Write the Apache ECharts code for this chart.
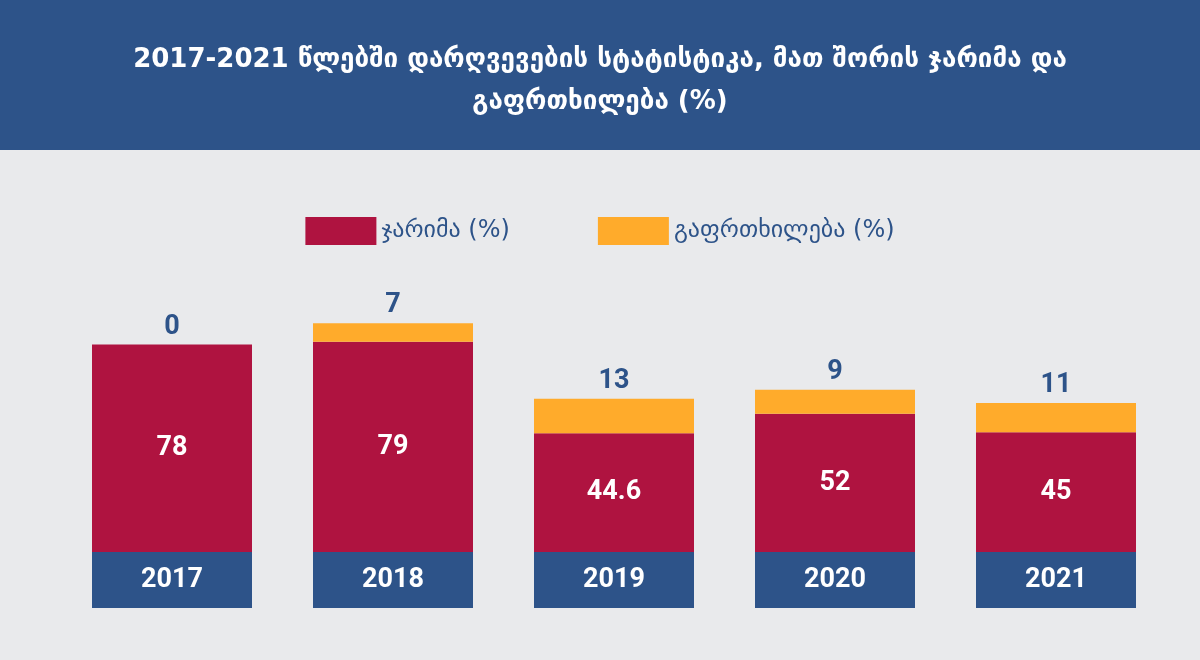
<!DOCTYPE html>
<html><head><meta charset="utf-8">
<script src="https://cdn.jsdelivr.net/npm/echarts@6/dist/echarts.min.js"></script>
<style>html,body{margin:0;padding:0;background:#e9eaec}#c{width:1200px;height:660px}</style>
</head><body><div id="c"></div>
<script>
const years = ['2017','2018','2019','2020','2021'];
const fines = [78, 79, 44.6, 52, 45];
const warnings = [0, 7, 13, 9, 11];
const blue = '#2d5389';
const chart = echarts.init(document.getElementById('c'));
chart.setOption({
  backgroundColor: '#e9eaec',
  animation: false,
  graphic: [{type:'rect', shape:{x:0,y:0,width:1200,height:150}, style:{fill:blue}, z:-1}],
  title: {
    text: '2017-2021 წლებში დარღვევების სტატისტიკა, მათ შორის ჯარიმა და\nგაფრთხილება (%)',
    left: 'center', top: 34,
    textStyle: {color:'#fff', fontSize:26, fontWeight:'bold', lineHeight:42, fontFamily:'DejaVu Sans'}
  },
  legend: {
    top: 212, left: 'center', itemWidth: 71, itemHeight: 28, itemGap: 88,
    icon: 'rect',
    textStyle: {color: blue, fontSize: 24, fontFamily: 'DejaVu Sans'}
  },
  grid: {left: 61.5, right: 33.5, top: 286, bottom: 108},
  xAxis: {
    type: 'category', data: years,
    axisLine: {show:false}, axisTick: {show:false},
    axisLabel: {
      margin: 0, width: 160, height: 56, lineHeight: 56, align: 'center',
      backgroundColor: blue, color: '#fff', fontSize: 27, fontWeight: 'bold', fontFamily: 'Roboto'
    }
  },
  yAxis: {type: 'value', min: 0, max: 100, show: false},
  series: [
    {name: 'ჯარიმა (%)', type: 'bar', stack: 's', data: fines, barWidth: 160,
     itemStyle: {color: '#af1340'},
     label: {show: true, position: 'inside', color: '#fff', fontSize: 27, fontWeight: 'bold', fontFamily: 'Roboto'}},
    {name: 'გაფრთხილება (%)', type: 'bar', stack: 's', data: warnings, barWidth: 160,
     itemStyle: {color: '#ffab2b'},
     label: {show: true, position: 'top', distance: 4, color: blue, fontSize: 27, fontWeight: 'bold', fontFamily: 'Roboto'}}
  ]
});
</script></body></html>
